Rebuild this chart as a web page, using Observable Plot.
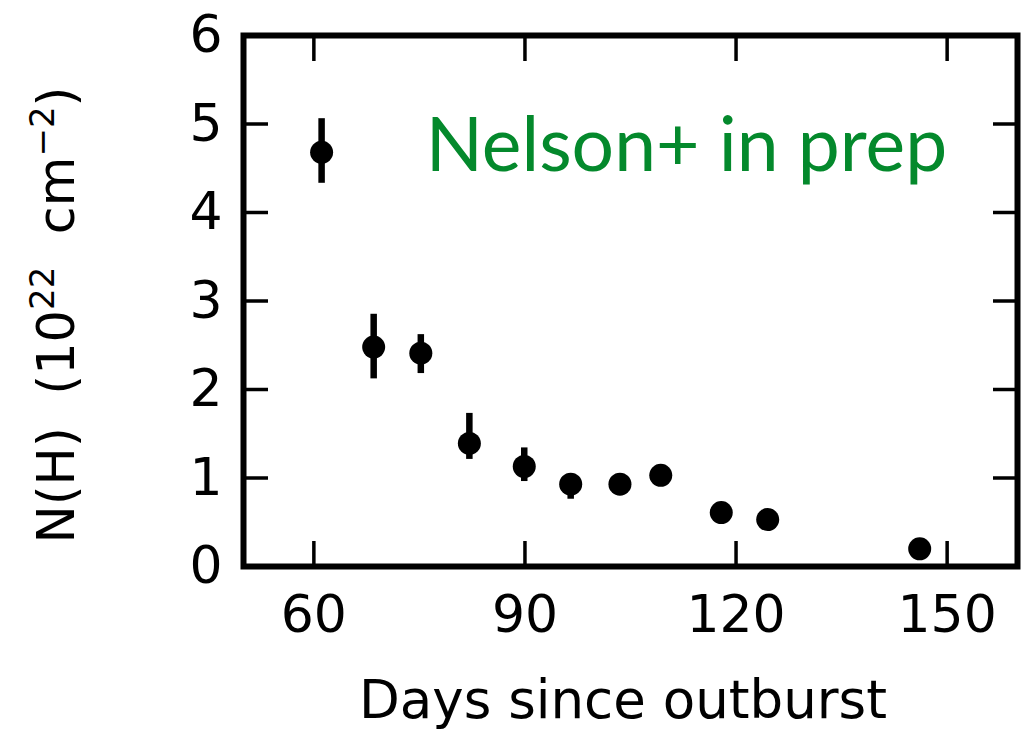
<!DOCTYPE html>
<html><head><meta charset="utf-8">
<script src="https://cdn.jsdelivr.net/npm/d3@7"></script>
<script src="https://cdn.jsdelivr.net/npm/@observablehq/plot@0.6"></script>
<style>body{margin:0;background:#fff;}</style>
</head><body><div id="chart"></div>
<script>
const days = [61.1, 68.5, 75.2, 82.1, 89.9, 96.5, 103.5, 109.3, 117.9, 124.5, 146.1];
const nh   = [4.68, 2.48, 2.41, 1.39, 1.13, 0.93, 0.93, 1.03, 0.61, 0.53, 0.20];
const nhLo = [4.33, 2.12, 2.18, 1.21, 0.96, 0.76, 0.87, 0.97, 0.57, 0.49, 0.17];
const nhHi = [5.06, 2.85, 2.62, 1.73, 1.34, 1.00, 0.99, 1.08, 0.65, 0.57, 0.23];
const xTicks = [60, 90, 120, 150];
const yTicks = [0, 1, 2, 3, 4, 5, 6];
const xDomain = [50, 160];
const yDomain = [0, 6];
const xLabel = "Days since outburst";
const note = [{day: 75.9, val: 4.47, text: "Nelson+ in prep"}];

const rows = days.map((d, i) => ({day: d, val: nh[i], lo: nhLo[i], hi: nhHi[i]}));

const plot = Plot.plot({
  width: 1024,
  height: 730,
  marginLeft: 243,
  marginRight: 7,
  marginTop: 35,
  marginBottom: 164,
  style: {background: "#fff", fontFamily: "DejaVu Sans", fontSize: "52px", color: "#000"},
  x: {domain: xDomain},
  y: {domain: yDomain},
  marks: [
    Plot.axisX(xTicks, {anchor: "bottom", tickSize: -25, tickPadding: 54, strokeWidth: 3.5, fontSize: 52, tickFormat: d => String(d), label: null}),
    Plot.axisX(xTicks, {anchor: "top", tickSize: -25, strokeWidth: 3.5, tickFormat: () => "", label: null}),
    Plot.axisY(yTicks, {anchor: "left", tickSize: -25, tickPadding: 46, strokeWidth: 3.5, fontSize: 52, tickFormat: d => String(d), label: null}),
    Plot.axisY(yTicks, {anchor: "right", tickSize: -25, strokeWidth: 3.5, tickFormat: () => "", label: null}),
    Plot.frame({stroke: "#000", strokeWidth: 6}),
    Plot.ruleX(rows, {x: "day", y1: "lo", y2: "hi", stroke: "#000", strokeWidth: 6.5}),
    Plot.dot(rows, {x: "day", y: "val", r: 11.5, fill: "#000", stroke: null}),
    Plot.text(note, {x: "day", y: "val", text: "text", textAnchor: "start", lineAnchor: "bottom",
      fill: "#04892c", fontFamily: "Lato", fontSize: 75})
  ]
});

const svg = d3.select(plot);
const yl = svg.append("text")
  .attr("transform", "translate(74,315) rotate(-90)")
  .attr("text-anchor", "middle")
  .attr("font-family", "DejaVu Sans")
  .attr("font-size", 51)
  .attr("fill", "#000");
yl.append("tspan").text("N(H)\u00a0\u00a0(10");
yl.append("tspan").attr("dy", -20).attr("font-size", 34).text("22");
yl.append("tspan").attr("dy", 20).text("\u00a0\u00a0cm");
yl.append("tspan").attr("dy", -20).attr("font-size", 34).text("\u22122");
yl.append("tspan").attr("dy", 20).text(")");

svg.append("text")
  .attr("x", 623).attr("y", 718)
  .attr("text-anchor", "middle")
  .attr("font-family", "DejaVu Sans")
  .attr("font-size", 53)
  .attr("fill", "#000")
  .text(xLabel);

document.getElementById("chart").appendChild(plot);
</script>
</body></html>
